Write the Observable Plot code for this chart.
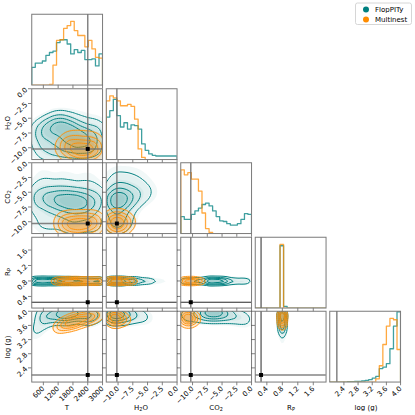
<!DOCTYPE html>
<html><head><meta charset="utf-8">
<script src="https://cdn.jsdelivr.net/npm/d3@7"></script>
<script src="https://cdn.jsdelivr.net/npm/@observablehq/plot@0.6"></script>
<style>
body{margin:0;background:#fff;font-family:"DejaVu Sans",sans-serif;overflow:hidden;}
#wrap{position:relative;width:830px;height:830px;transform:scale(0.5);transform-origin:0 0;}
.lbl{position:absolute;font-size:14px;color:#000;white-space:nowrap;transform:translate(-50%,-50%);}
.lbl sub{font-size:70%;vertical-align:-3px;line-height:0;}
.ylbl{transform:translate(-50%,-50%) rotate(-90deg);}
</style></head><body><div id="wrap"></div>
<script>
// ---------------- data ----------------
const paramNames = ["T", "H2O", "CO2", "Rp", "logg"];
const paramLabels = ["T", "H<sub>2</sub>O", "CO<sub>2</sub>", "R<sub>P</sub>", "log (g)"];
const domainT = [130, 3000], domainH2O = [-12, 0], domainCO2 = [-12, 0], domainRp = [0.1, 1.93], domainLogg = [2.0, 4.0];
const ticksT = [600, 1200, 1800, 2400, 3000];
const ticksH2O = [-10, -7.5, -5, -2.5, 0];
const ticksCO2 = [-10, -7.5, -5, -2.5, 0];
const ticksRp = [0.4, 0.8, 1.2, 1.6];
const ticksLogg = [2.4, 2.8, 3.2, 3.6, 4.0];
const truths = [2400, -10.2, -10.3, 0.25, 2.2];
const seriesNames = ["FlopPITy", "Multinest"];
const seriesColors = ["#008080", "#ff8c00"];

// 1D histograms (20 bins across the axis range), heights in % of panel height
const histT_flop  = [25,31,31,34,42,46,48,60,64,64,58,44,50,46,49,36,36,37,27,44];
const histT_multi = [0,0,0,0,0,1,28,63,64,80,84,90,77,70,70,54,63,51,39,38];
const histH2O_flop  = [60,69,85,62,46,52,43,49,48,43,22,13,8,6,5,5,5,5,5,5];
const histH2O_multi = [83,90,87,83,76,76,78,75,57,15,3,0,0,0,0,0,0,0,0,0];
const histCO2_flop  = [24,20,20,27,32,36,41,43,39,32,24,18,17,14,12,12,14,20,28,27];
const histCO2_multi = [90,83,86,77,77,60,29,7,1.5,0,0,0,0,0,0,0,0,0,0,0];
const histRp_flop  = [0,0,0,0,0,0,0,88,2.5,0,0,0,0,0,0,0,0,0,0,0];
const histRp_multi = [0,0,0,0,0,0,0,90,0,0,0,0,0,0,0,0,0,0,0,0];
const histLogg_flop  = [0,0,0,0,0,0.5,0.5,1,1,1.5,2.5,3.5,5.5,8,19,21,26,47,79,99];
const histLogg_multi = [0,0,0,0,0,0,0,0,0,0,0,0,0,4.6,23,53,79,90,88,46];

// 2D posterior density anchors: [x, y, weight]
const flop_H2O_T = [[400,-7.2,0.6],[600,-6.8,0.8],[900,-6.5,1],[1200,-6.2,1.2],[1500,-6.8,1.3],[1800,-7.3,1.3],[2100,-7.8,1.1],[2500,-7.8,1],[2900,-7.5,0.8],
  [700,-9.3,0.8],[1200,-9.3,1],[1700,-9.5,1.1],[2200,-9.7,1],[2700,-9.8,0.9],
  [500,-11,0.5],[1100,-11.2,0.7],[1700,-11.2,0.8],[2300,-11.2,0.8],[2900,-11,0.6],
  [1300,-4.8,0.5],[2000,-5.0,0.5],[2700,-5.5,0.4],[300,-9,0.3]];
const multi_H2O_T = [[1300,-9.8,0.6],[1600,-9.5,1],[1900,-10,1.3],[2200,-10.3,1.4],[2500,-10,1.2],[2800,-9.8,0.9],
  [1700,-8,0.6],[2200,-7.8,0.6],[2700,-8,0.5],[1500,-11.3,0.6],[2000,-11.5,0.8],[2500,-11.4,0.7],[2900,-11.2,0.5]];
const flop_CO2_T = [[200,-6.3,0.7],[600,-6.3,0.9],[1000,-6.4,1.1],[1400,-6.6,1.6],[1800,-6.8,1.3],[2100,-6.9,1.4],[2500,-7.0,1],[2900,-6.8,0.8],
  [400,-4,0.5],[1000,-4.2,0.6],[1600,-4.5,0.6],[2200,-4.6,0.6],[2800,-4.5,0.5],
  [600,-1.5,0.3],[1500,-1.8,0.3],[2400,-2,0.3],
  [300,-9.5,0.4],[900,-9.6,0.6],[1500,-10,0.7],[2100,-10,0.7],[2700,-10,0.6],
  [700,-11.3,0.3],[1800,-11.4,0.4],[2700,-11.4,0.3]];
const multi_CO2_T = [[1300,-10.2,0.8],[1600,-10.4,1],[1900,-10.5,1.3],[2200,-10.4,1.4],[2500,-10.2,1.2],[2850,-10,0.9],
  [1500,-9.2,0.5],[2000,-9.2,0.6],[2600,-9.2,0.5],[1500,-11.4,0.5],[2000,-11.5,0.6],[2600,-11.4,0.5]];
const flop_CO2_H2O = [[-11.5,-6.5,1],[-10.5,-6.5,1.8],[-9.5,-6.4,1.3],[-8.5,-6.2,0.9],[-7.5,-6,0.7],[-6.5,-5.6,0.5],[-5.5,-5.2,0.35],[-4.5,-5,0.25],[-3.5,-5,0.15],
  [-11,-4,0.7],[-9.5,-3.8,0.6],[-8,-3.5,0.45],[-6.5,-3,0.3],[-5,-2.5,0.2],
  [-11,-1.5,0.35],[-9,-1.5,0.3],[-7,-1.2,0.2],
  [-11.2,-9.5,0.8],[-10,-9.7,0.8],[-8.8,-9.8,0.5],[-7.5,-9.5,0.3],[-11,-11.3,0.4],[-9.5,-11.3,0.3]];
const multi_CO2_H2O = [[-11.5,-10,0.9],[-10.6,-10.3,1.4],[-9.7,-10.3,1.2],[-8.7,-10.1,0.8],[-7.8,-10,0.5],
  [-10.8,-9,0.6],[-9.5,-9,0.5],[-10.8,-11.4,0.6],[-9.5,-11.4,0.5]];
const flop_Rp_T = [[150,0.8,0.8],[300,0.8,1],[450,0.8,1],[600,0.8,1],[750,0.8,1],[900,0.8,1],[1050,0.8,1],[1200,0.8,0.9],[1350,0.8,0.9],[1500,0.8,0.8],
  [1650,0.8,0.8],[1800,0.8,0.7],[1950,0.8,0.7],[2100,0.8,0.7],[2250,0.8,0.6],[2400,0.8,0.6],[2550,0.8,0.6],[2700,0.8,0.6],[2850,0.8,0.6],[2950,0.8,0.6]];
const multi_Rp_T = [[1000,0.8,0.5],[1150,0.8,0.8],[1300,0.8,1],[1450,0.8,1.1],[1600,0.8,1.2],[1750,0.8,1.2],[1900,0.8,1.2],[2050,0.8,1.2],[2200,0.8,1.1],
  [2350,0.8,1.1],[2500,0.8,1],[2650,0.8,1],[2800,0.8,0.9],[2950,0.8,0.8]];
const flop_Rp_H2O = [[-11.8,0.8,1],[-11.2,0.8,1.2],[-10.6,0.8,1.3],[-10,0.8,1.3],[-9.4,0.8,1.2],[-8.8,0.8,1.1],[-8.2,0.8,1],[-7.6,0.8,0.9],[-7,0.8,0.8],[-6.4,0.8,0.7],
  [-5.8,0.8,0.6],[-5.2,0.8,0.5],[-4.6,0.8,0.4],[-4,0.8,0.3],[-3.4,0.8,0.25],[-2.8,0.8,0.2],[-2.2,0.8,0.15],[-1.6,0.8,0.12],[-1,0.8,0.1],[-0.4,0.8,0.1]];
const multi_Rp_H2O = [[-11.8,0.8,1],[-11.2,0.8,1.2],[-10.6,0.8,1.3],[-10,0.8,1.3],[-9.4,0.8,1.2],[-8.8,0.8,1],[-8.2,0.8,0.9],[-7.6,0.8,0.7],[-7,0.8,0.5]];
const flop_Rp_CO2 = [[-11.8,0.8,0.5],[-11.2,0.8,0.5],[-10.6,0.8,0.5],[-10,0.8,0.5],[-9.4,0.8,0.55],[-8.8,0.8,0.6],[-8.2,0.8,0.8],[-7.6,0.8,1.1],[-7,0.8,1.3],[-6.4,0.8,1.4],
  [-5.8,0.8,1.4],[-5.2,0.8,1.2],[-4.6,0.8,1],[-4,0.8,0.8],[-3.4,0.8,0.6],[-2.8,0.8,0.5],[-2.2,0.8,0.45],[-1.6,0.8,0.45],[-1,0.8,0.45],[-0.4,0.8,0.45]];
const multi_Rp_CO2 = [[-11.8,0.8,1],[-11.2,0.8,1.2],[-10.6,0.8,1.3],[-10,0.8,1.3],[-9.4,0.8,1.1],[-8.8,0.8,0.8],[-8.2,0.8,0.5]];
const flop_logg_T = [[300,3.45,0.4],[500,3.65,0.6],[800,3.8,0.8],[1100,3.92,1.2],[1400,3.95,1.5],[1700,3.95,1.4],[2000,3.95,1.2],[2300,3.92,1],[2600,3.9,0.8],[2900,3.9,0.6],
  [600,3.95,0.8],[1500,3.75,0.5],[2400,3.75,0.4],[200,3.25,0.2]];
const multi_logg_T = [[1100,3.5,0.4],[1300,3.58,0.7],[1500,3.63,1],[1700,3.68,1.2],[1900,3.72,1.2],[2100,3.76,1.1],[2300,3.8,1],[2500,3.84,0.9],[2700,3.88,0.7],[2900,3.92,0.5]];
const flop_logg_H2O = [[-11.5,3.95,1.3],[-10.5,3.95,1.5],[-9.5,3.95,1.2],[-8.5,3.93,0.9],[-7.5,3.9,0.7],[-6.5,3.87,0.5],[-5.5,3.83,0.35],[-4.5,3.8,0.25],[-11,3.75,0.6],[-9,3.75,0.4]];
const multi_logg_H2O = [[-11.5,3.8,1],[-10.8,3.82,1.3],[-10,3.8,1.2],[-9.2,3.78,0.9],[-8.4,3.75,0.5],[-10.5,3.65,0.6],[-10.5,3.95,0.5]];
const flop_logg_CO2 = [[-11.5,3.9,0.6],[-10,3.9,0.7],[-8.5,3.93,0.9],[-7.5,3.97,1.3],[-6.5,3.97,1.5],[-5.5,3.97,1.3],[-4.5,3.93,0.9],[-3.5,3.88,0.6],[-2.5,3.85,0.5],[-1.5,3.8,0.45],[-0.5,3.75,0.4]];
const multi_logg_CO2 = [[-11.6,3.8,1],[-10.9,3.82,1.3],[-10.2,3.8,1.1],[-9.4,3.78,0.7],[-10.8,3.65,0.5],[-10.8,3.95,0.5]];
const flop_logg_Rp = [[0.8,2.7,0.1],[0.8,2.85,0.12],[0.8,3.0,0.15],[0.8,3.15,0.25],[0.8,3.3,0.4],[0.8,3.4,0.6],[0.8,3.5,0.8],[0.8,3.6,1],[0.8,3.7,1.1],[0.8,3.8,1.2],[0.8,3.9,1.2],[0.8,3.98,1.1]];
const multi_logg_Rp = [[0.8,3.5,0.4],[0.8,3.6,0.8],[0.8,3.68,1],[0.8,3.76,1.1],[0.8,3.84,1.1],[0.8,3.92,1.1],[0.8,3.98,1]];

// ---------------- assembly ----------------
const domains = [domainT, domainH2O, domainCO2, domainRp, domainLogg];
const tickSets = [ticksT, ticksH2O, ticksCO2, ticksRp, ticksLogg];
const fmtInt = d => String(d);
const fmt1 = d => (d < 0 ? "\u2212" : "") + Math.abs(d).toFixed(1);
const fmts = [fmtInt, fmt1, fmt1, fmt1, fmt1];
const hists = [[histT_flop, histT_multi], [histH2O_flop, histH2O_multi], [histCO2_flop, histCO2_multi], [histRp_flop, histRp_multi], [histLogg_flop, histLogg_multi]];
const dens = {
  "1_0": [flop_H2O_T, multi_H2O_T, 14, 12],
  "2_0": [flop_CO2_T, multi_CO2_T, 14, 12],
  "2_1": [flop_CO2_H2O, multi_CO2_H2O, 14, 12],
  "3_0": [flop_Rp_T, multi_Rp_T, 3.6, 3.4],
  "3_1": [flop_Rp_H2O, multi_Rp_H2O, 3.6, 3.4],
  "3_2": [flop_Rp_CO2, multi_Rp_CO2, 3.6, 3.4],
  "4_0": [flop_logg_T, multi_logg_T, 10, 8],
  "4_1": [flop_logg_H2O, multi_logg_H2O, 10, 8],
  "4_2": [flop_logg_CO2, multi_logg_CO2, 10, 8],
  "4_3": [flop_logg_Rp, multi_logg_Rp, 3.6, 3.6]
};

const S = 2;
const PW = 70.8 * S, PH = 70.8 * S;
const colLeft = c => (31.7 + 74.4 * c) * S;
const rowTop = r => (14 + 74.3 * r) * S;
const truthStroke = i => i === 3 ? "#000" : "#6e6e6e";
const truthWidth = i => i === 3 ? 2 : 3;
const wrap = document.getElementById("wrap");

function histLine(vals, dom) {
  const n = vals.length, w = (dom[1] - dom[0]) / n;
  const pts = [{x: dom[0], y: 0}];
  vals.forEach((v, k) => pts.push({x: dom[0] + k * w, y: v}));
  pts.push({x: dom[1], y: vals[n - 1]});
  pts.push({x: dom[1], y: 0});
  return pts;
}

function panel(row, col) {
  const diag = row === col;
  const marks = [];
  if (diag) {
    hists[col].forEach((vals, s) => {
      marks.push(Plot.line(histLine(vals, domains[col]), {x: "x", y: "y", curve: "step-after", stroke: seriesColors[s], strokeOpacity: 0.75, strokeWidth: 2.6, clip: true}));
    });
    marks.push(Plot.ruleX([truths[col]], {stroke: truthStroke(col), strokeWidth: truthWidth(col), strokeOpacity: 0.85}));
  } else {
    const [fd, md, fbw, mbw] = dens[row + "_" + col];
    const acc = {x: d => d[0], y: d => d[1], weight: d => d[2], clip: true};
    marks.push(Plot.density(fd, {...acc, bandwidth: fbw, thresholds: 9, fill: seriesColors[0], fillOpacity: 0.055, stroke: "none"}));
    marks.push(Plot.density(fd, {...acc, bandwidth: fbw, thresholds: 5, fill: "none", stroke: seriesColors[0], strokeWidth: 2}));
    marks.push(Plot.density(md, {...acc, bandwidth: mbw, thresholds: 6, fill: seriesColors[1], fillOpacity: 0.13, stroke: "none"}));
    marks.push(Plot.density(md, {...acc, bandwidth: mbw, thresholds: 5, fill: "none", stroke: seriesColors[1], strokeOpacity: 0.9, strokeWidth: 2}));
    marks.push(Plot.ruleX([truths[col]], {stroke: truthStroke(col), strokeWidth: truthWidth(col), strokeOpacity: 0.85}));
    marks.push(Plot.ruleY([truths[row]], {stroke: truthStroke(row), strokeWidth: truthWidth(row), strokeOpacity: 0.85}));
    marks.push(Plot.dot([[truths[col], truths[row]]], {x: d => d[0], y: d => d[1], symbol: "square", r: 4.5, fill: "#000", stroke: "none"}));
  }
  marks.push(Plot.frame({stroke: "#7a7a7a", strokeWidth: 2}));
  const svg = Plot.plot({
    width: PW, height: PH, margin: 0,
    style: {overflow: "visible", fontFamily: "DejaVu Sans", fontSize: "14px", background: "transparent", color: "#000"},
    x: {domain: domains[col], ticks: tickSets[col], tickFormat: row === 4 ? fmts[col] : () => "", tickRotate: -45, tickSize: 7, tickPadding: 4, label: null},
    y: diag ? {domain: [0, 100], axis: null}
            : {domain: domains[row], ticks: tickSets[row], tickFormat: col === 0 ? fmts[row] : () => "", tickRotate: -45, tickSize: 7, tickPadding: 4, label: null},
    marks
  });
  svg.style.position = "absolute";
  svg.style.left = colLeft(col) + "px";
  svg.style.top = rowTop(row) + "px";
  svg.style.maxWidth = "none";
  wrap.appendChild(svg);
}

for (let r = 0; r < 5; r++) for (let c = 0; c <= r; c++) panel(r, c);

// axis titles
const xLabelCenters = [134, 282, 432, 582, 732];
const yLabelCenters = [246, 394, 544, 694];
paramLabels.forEach((lab, i) => {
  const d = document.createElement("div");
  d.className = "lbl"; d.innerHTML = lab;
  d.style.left = xLabelCenters[i] + "px"; d.style.top = "814px";
  wrap.appendChild(d);
  if (i > 0) {
    const e = document.createElement("div");
    e.className = "lbl ylbl"; e.innerHTML = lab;
    e.style.left = "14px"; e.style.top = yLabelCenters[i - 1] + "px";
    wrap.appendChild(e);
  }
});

// legend
const leg = document.createElement("div");
leg.style.cssText = "position:absolute;left:710px;top:5px;width:114px;height:45px;border:2px solid #d6d6d6;border-radius:5px;box-sizing:border-box;background:#fff;font-size:14px;";
seriesNames.forEach((nm, i) => {
  const row = document.createElement("div");
  row.style.cssText = `position:absolute;left:14px;top:${3 + i * 20}px;height:18px;display:flex;align-items:center;white-space:nowrap;`;
  row.innerHTML = `<span style="display:inline-block;width:12px;height:12px;border-radius:50%;background:${seriesColors[i]};margin-right:12px"></span>${nm}`;
  leg.appendChild(row);
});
wrap.appendChild(leg);
</script></body></html>
